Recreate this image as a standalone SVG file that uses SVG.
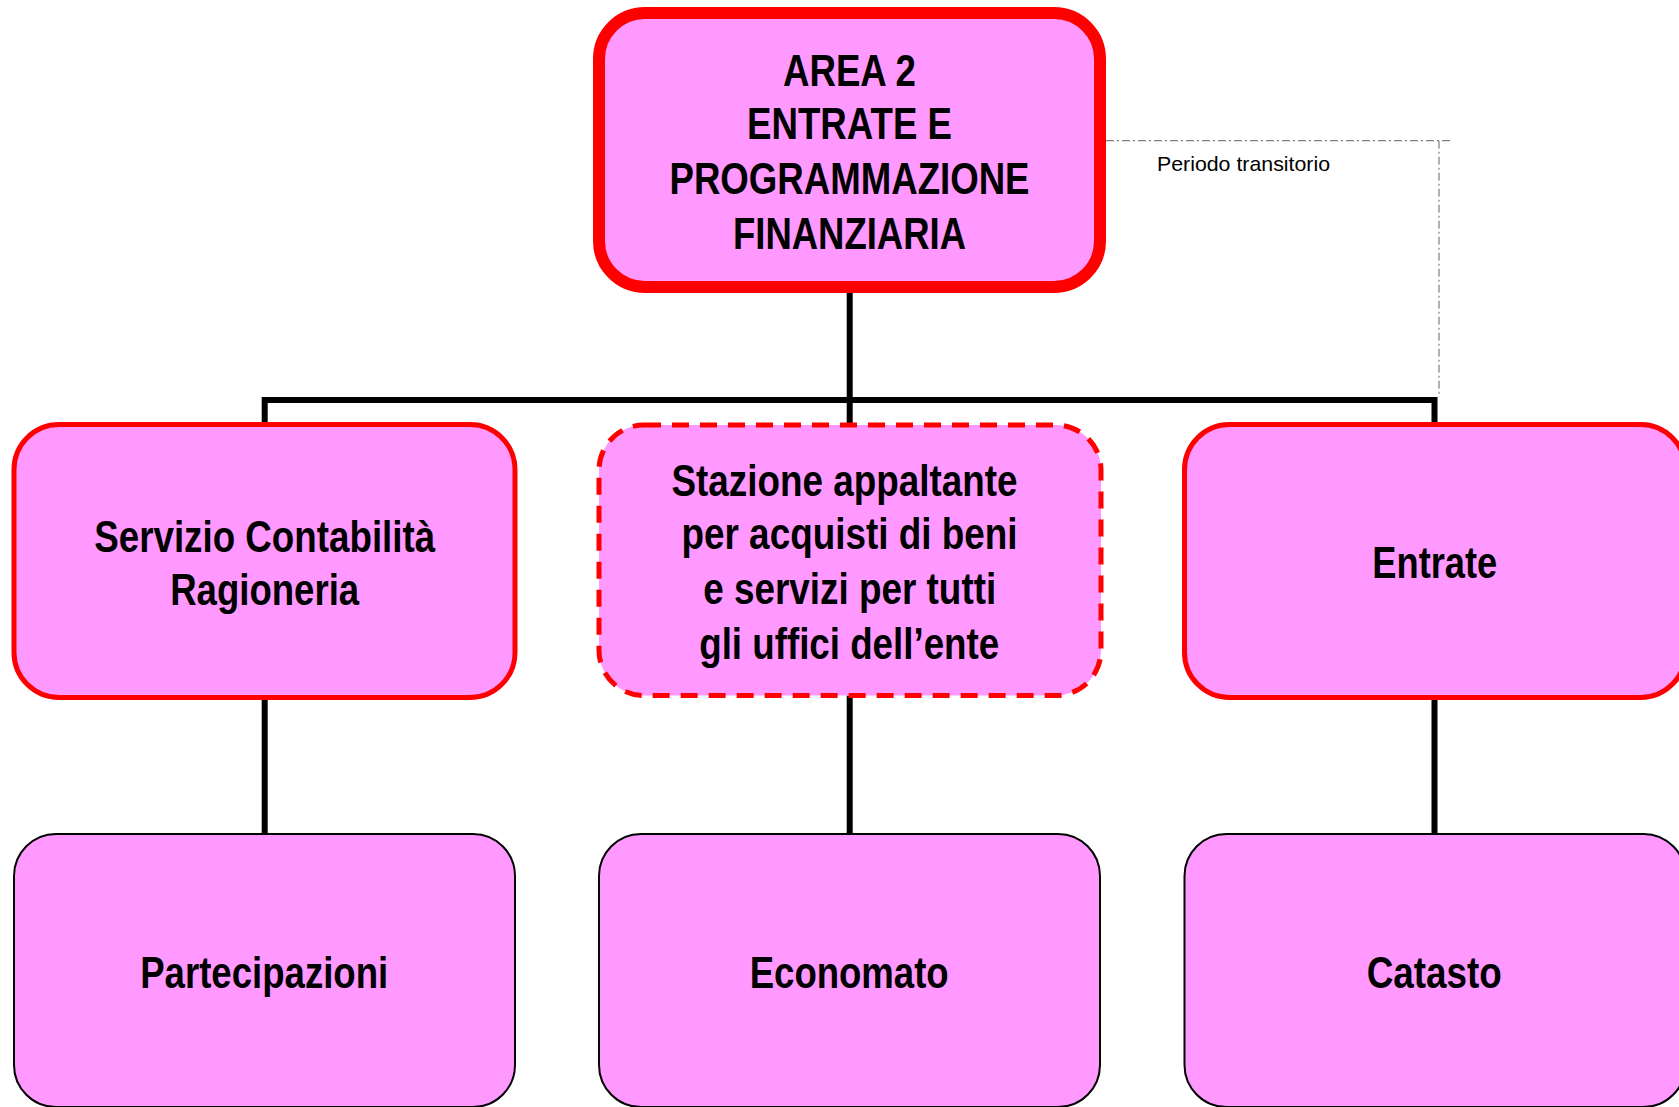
<svg xmlns="http://www.w3.org/2000/svg" width="1679" height="1107" viewBox="0 0 1679 1107">
<defs>
<style>
.box{fill:#FF99FF;}
.red{stroke:#FF0000;}
.lvl0{stroke-width:12;}
.lvl1{stroke-width:5;}
.dash{stroke-dasharray:17 11;}
.blk{stroke:#000000;stroke-width:2;}
.conn{stroke:#000000;stroke-width:6;fill:none;}
.dd{stroke:#808080;stroke-width:1.2;fill:none;stroke-dasharray:8 3 2 3;}
.t{font-family:'Liberation Sans Narrow','Arial Narrow','Liberation Sans',Arial,sans-serif;font-weight:bold;font-size:44px;fill:#000000;text-anchor:middle;}
.s{font-family:'Liberation Sans',Arial,sans-serif;font-size:21px;fill:#000000;}
</style>
</defs>
<rect width="1679" height="1107" fill="#FFFFFF"/>
<g id="connectors">
<path class="conn" d="M849.7,293 V425"/>
<path class="conn" d="M264.7,424.5 V400 H1434.5 V424.5"/>
<path class="conn" d="M264.7,697.5 V834"/>
<path class="conn" d="M849.7,695.5 V834"/>
<path class="conn" d="M1434.5,697.5 V834"/>
<path class="dd" d="M1106,140.7 H1453"/>
<path class="dd" d="M1439,140.7 V397"/>
<text class="s" x="1157" y="171" textLength="173" lengthAdjust="spacingAndGlyphs">Periodo transitorio</text>
</g>
<g id="area2">
<rect class="box red lvl0" x="599" y="13" width="501" height="274" rx="46" ry="46"/>
<text class="t" x="849.5" y="86" textLength="133" lengthAdjust="spacingAndGlyphs">AREA 2</text>
<text class="t" x="849.5" y="139.3" textLength="205" lengthAdjust="spacingAndGlyphs">ENTRATE E</text>
<text class="t" x="849.5" y="194.3" textLength="360" lengthAdjust="spacingAndGlyphs">PROGRAMMAZIONE</text>
<text class="t" x="849.5" y="249.3" textLength="233" lengthAdjust="spacingAndGlyphs">FINANZIARIA</text>
</g>
<g id="contabilita">
<rect class="box red lvl1" x="14" y="424.5" width="501" height="273" rx="45" ry="45"/>
<text class="t" x="264.7" y="551.7" textLength="341" lengthAdjust="spacingAndGlyphs">Servizio Contabilità</text>
<text class="t" x="264.7" y="605" textLength="189" lengthAdjust="spacingAndGlyphs">Ragioneria</text>
</g>
<g id="stazione">
<rect class="box red lvl1 dash" x="599" y="425" width="502" height="270.5" rx="45" ry="45"/>
<text class="t" x="844.5" y="496" textLength="346" lengthAdjust="spacingAndGlyphs">Stazione appaltante</text>
<text class="t" x="849.5" y="549.3" textLength="336" lengthAdjust="spacingAndGlyphs">per acquisti di beni</text>
<text class="t" x="849.7" y="604.3" textLength="293" lengthAdjust="spacingAndGlyphs">e servizi per tutti</text>
<text class="t" x="849.2" y="659.3" textLength="300" lengthAdjust="spacingAndGlyphs">gli uffici dell’ente</text>
</g>
<g id="entrate">
<rect class="box red lvl1" x="1184.5" y="424.5" width="501" height="273" rx="45" ry="45"/>
<text class="t" x="1434.8" y="578.3" textLength="125" lengthAdjust="spacingAndGlyphs">Entrate</text>
</g>
<g id="partecipazioni">
<rect class="box blk" x="14" y="834" width="501" height="273" rx="42" ry="42"/>
<text class="t" x="264.2" y="988.3" textLength="248" lengthAdjust="spacingAndGlyphs">Partecipazioni</text>
</g>
<g id="economato">
<rect class="box blk" x="599" y="834" width="501" height="273" rx="42" ry="42"/>
<text class="t" x="849.2" y="988.3" textLength="199" lengthAdjust="spacingAndGlyphs">Economato</text>
</g>
<g id="catasto">
<rect class="box blk" x="1184.5" y="834" width="501" height="273" rx="42" ry="42"/>
<text class="t" x="1434.2" y="988.3" textLength="135" lengthAdjust="spacingAndGlyphs">Catasto</text>
</g>
</svg>
